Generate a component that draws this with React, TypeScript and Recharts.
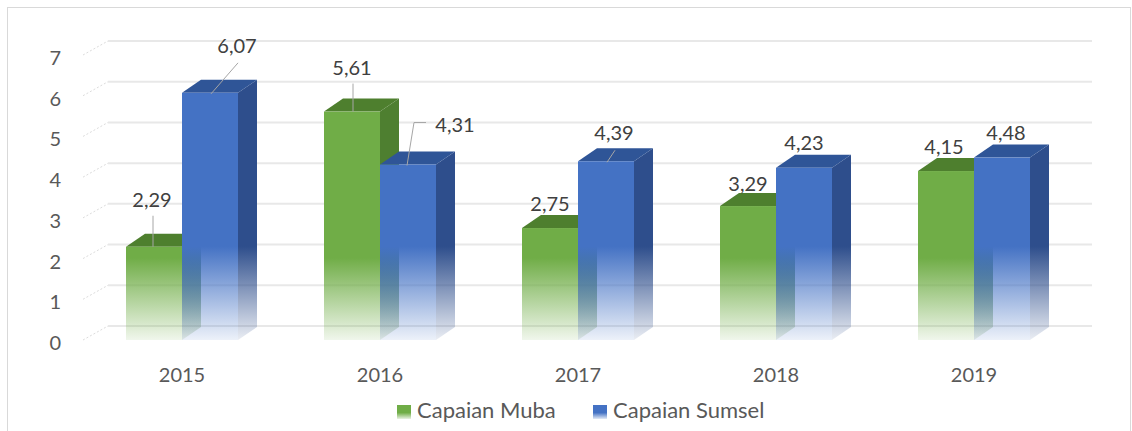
import React from "react";
import {
  BarChart,
  Bar,
  XAxis,
  YAxis,
  CartesianGrid,
  LabelList,
} from "recharts";

const YEARS = ["2015", "2016", "2017", "2018", "2019"];
const MUBA = [2.29, 5.61, 2.75, 3.29, 4.15];
const SUMSEL = [6.07, 4.31, 4.39, 4.23, 4.48];
const Y_TICKS = [0, 1, 2, 3, 4, 5, 6, 7];
const SERIES = ["Capaian Muba", "Capaian Sumsel"];

const data = YEARS.map((year, i) => ({
  year,
  muba: MUBA[i],
  sumsel: SUMSEL[i],
}));

const FONT = "Lato, 'Open Sans', sans-serif";

// label placement relative to the front top centre of each bar
const MUBA_LABELS: any[] = [
  { dx: -2, dy: -47, leader: "vert" },
  { dx: 0, dy: -44, leader: "vert" },
  { dx: 0, dy: -24 },
  { dx: 0, dy: -22 },
  { dx: -2, dy: -24 },
];
const SUMSEL_LABELS: any[] = [
  { dx: 27, dy: -47, leader: "diag" },
  { dx: 47, dy: -40, leader: "elbow" },
  { dx: 8, dy: -28, leader: "diag" },
  { dx: 0, dy: -25 },
  { dx: 4, dy: -25 },
];

const DEPTH_X = 19;
const DEPTH_Y = 13;

const makeShape = (front: string, top: string, side: string) => (props: any) => {
  const { x, y, width, height } = props;
  if (!height) return <g />;
  const b = y + height;
  return (
    <g>
      <polygon
        points={`${x + width},${y} ${x + width + DEPTH_X},${y - DEPTH_Y} ${x + width + DEPTH_X},${b - DEPTH_Y} ${x + width},${b}`}
        fill={side}
      />
      <polygon
        points={`${x},${y} ${x + DEPTH_X},${y - DEPTH_Y} ${x + width + DEPTH_X},${y - DEPTH_Y} ${x + width},${y}`}
        fill={top}
      />
      <rect x={x} y={y} width={width} height={height} fill={front} />
    </g>
  );
};

const makeLabel = (places: any[]) => (props: any) => {
  const { x, y, width, value, index } = props;
  const p = places[index];
  const cx = x + width / 2;
  const lx = cx + p.dx;
  const ly = y + p.dy;
  let leader = null;
  if (p.leader === "vert") {
    leader = <line x1={lx + 1} y1={ly + 16} x2={lx + 1} y2={y} stroke="#a6a6a6" />;
  } else if (p.leader === "diag") {
    leader = <line x1={lx + 1} y1={ly + 17} x2={cx + 1} y2={y + 1} stroke="#a6a6a6" />;
  } else if (p.leader === "elbow") {
    leader = (
      <polyline
        points={`${lx - 29},${ly - 2} ${lx - 41},${ly - 2} ${cx - 1},${y + 1}`}
        fill="none"
        stroke="#a6a6a6"
      />
    );
  }
  return (
    <g>
      {leader}
      <text
        x={lx}
        y={ly + 7}
        textAnchor="middle"
        fontSize={20}
        fontFamily={FONT}
        fill="#404040"
      >
        {String(value).replace(".", ",")}
      </text>
    </g>
  );
};

const gridLine = (props: any) => {
  const { x1, y1, x2 } = props;
  return (
    <g key={`g-${y1}`}>
      <line
        x1={x1}
        y1={y1}
        x2={x1 + 25}
        y2={y1 - 14}
        stroke="#dcdcdc"
        strokeDasharray="2 2"
      />
      <line
        x1={x1 + 25}
        y1={y1 - 14}
        x2={x2 + 19}
        y2={y1 - 14}
        stroke="#e8e8e8"
        strokeWidth={2}
      />
    </g>
  );
};

const YTick = (props: any) => {
  const { y, payload } = props;
  return (
    <text x={61} y={y + 10} textAnchor="end" fontSize={20} fontFamily={FONT} fill="#595959">
      {payload.value}
    </text>
  );
};

const XTick = (props: any) => {
  const { x, payload } = props;
  return (
    <text x={x} y={382} textAnchor="middle" fontSize={20} fontFamily={FONT} fill="#595959">
      {payload.value}
    </text>
  );
};

const legendBox = (c1: string, c2: string) => ({
  position: "absolute" as const,
  top: 405,
  width: 14,
  height: 14,
  background: `linear-gradient(to bottom, ${c1} 55%, ${c2})`,
});

const legendText = {
  position: "absolute" as const,
  top: 397,
  fontFamily: FONT,
  fontSize: 22,
  lineHeight: "26px",
  color: "#595959",
  whiteSpace: "nowrap" as const,
};

export default function App() {
  return (
    <div
      style={{
        position: "absolute",
        left: 0,
        top: 0,
        width: 1132,
        height: 431,
        overflow: "hidden",
        background: "#fff",
      }}
    >
      <div
        style={{
          position: "absolute",
          left: 7,
          top: 7,
          width: 1122,
          height: 440,
          border: "1px solid #d9d9d9",
        }}
      />

      <div style={{ position: "absolute", left: 0, top: 0 }}>
        <BarChart
          width={1132}
          height={431}
          data={data}
          margin={{ top: 55, right: 59, bottom: 61, left: 38 }}
          barGap={0}
        >
          <defs>
            <linearGradient id="gFront" x1="0" y1="55" x2="0" y2="345" gradientUnits="userSpaceOnUse">
              <stop offset="0" stopColor="#70AD47" />
              <stop offset="0.7" stopColor="#70AD47" />
              <stop offset="1" stopColor="#70AD47" stopOpacity={0.05} />
            </linearGradient>
            <linearGradient id="gSide" x1="0" y1="55" x2="0" y2="345" gradientUnits="userSpaceOnUse">
              <stop offset="0" stopColor="#4E7F30" />
              <stop offset="0.7" stopColor="#4E7F30" />
              <stop offset="1" stopColor="#4E7F30" stopOpacity={0.05} />
            </linearGradient>
            <linearGradient id="bFront" x1="0" y1="55" x2="0" y2="345" gradientUnits="userSpaceOnUse">
              <stop offset="0" stopColor="#4472C4" />
              <stop offset="0.66" stopColor="#4472C4" />
              <stop offset="1" stopColor="#4472C4" stopOpacity={0.05} />
            </linearGradient>
            <linearGradient id="bSide" x1="0" y1="55" x2="0" y2="345" gradientUnits="userSpaceOnUse">
              <stop offset="0" stopColor="#2E4E8C" />
              <stop offset="0.66" stopColor="#2E4E8C" />
              <stop offset="1" stopColor="#2E4E8C" stopOpacity={0.05} />
            </linearGradient>
          </defs>

          <CartesianGrid vertical={false} horizontal={gridLine} />

          <XAxis
            dataKey="year"
            axisLine={false}
            tickLine={false}
            height={30}
            tick={<XTick />}
            interval={0}
          />

          <YAxis
            domain={[0, 7]}
            ticks={Y_TICKS}
            axisLine={false}
            tickLine={false}
            width={45}
            tick={<YTick />}
          />

          <Bar
            dataKey="muba"
            name={SERIES[0]}
            barSize={56}
            isAnimationActive={false}
            shape={makeShape("url(#gFront)", "#4E7F2E", "url(#gSide)")}
          >
            <LabelList dataKey="muba" content={makeLabel(MUBA_LABELS)} />
          </Bar>

          <Bar
            dataKey="sumsel"
            name={SERIES[1]}
            barSize={56}
            isAnimationActive={false}
            shape={makeShape("url(#bFront)", "#2F5597", "url(#bSide)")}
          >
            <LabelList dataKey="sumsel" content={makeLabel(SUMSEL_LABELS)} />
          </Bar>
        </BarChart>
      </div>

      <div style={{ ...legendBox("#70AD47", "#e9f2e3"), left: 397 }} />
      <div style={{ ...legendText, left: 417 }}>{SERIES[0]}</div>
      <div style={{ ...legendBox("#4472C4", "#e3eaf6"), left: 593 }} />
      <div style={{ ...legendText, left: 613 }}>{SERIES[1]}</div>
    </div>
  );
}
